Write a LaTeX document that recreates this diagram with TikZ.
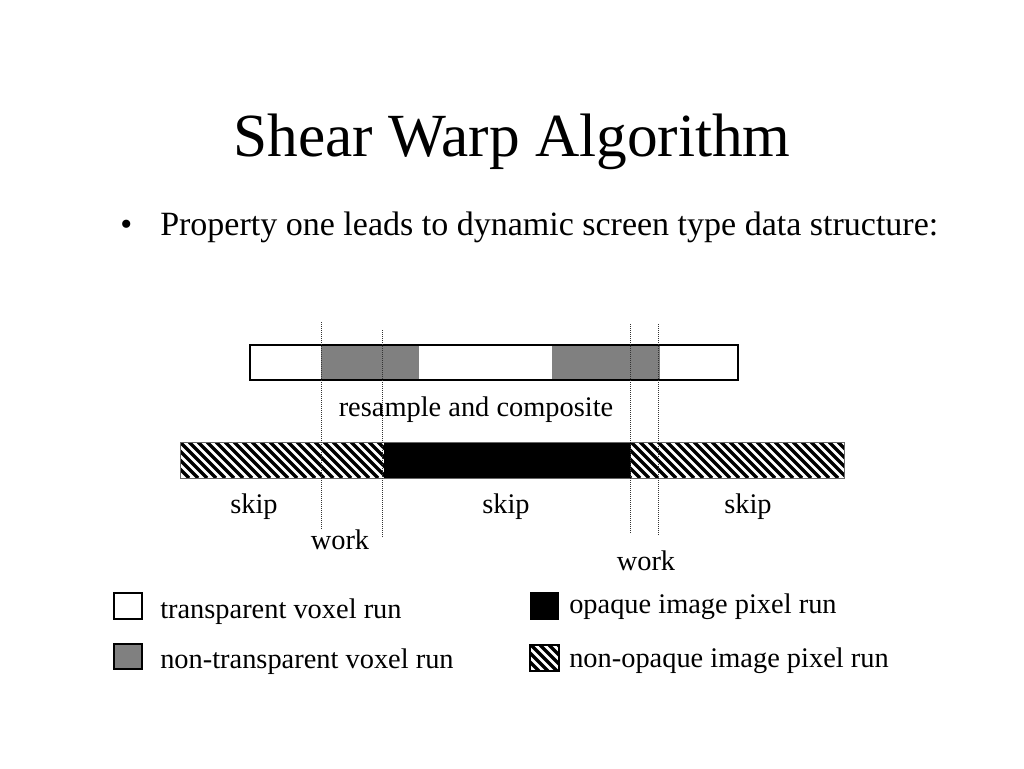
\documentclass[tikz,border=0pt]{standalone}
\usepackage{fontspec}
\setmainfont{Liberation Serif}
\newcommand{\myhatch}[4]{%
  \begin{scope}
    \clip (#1,#2) rectangle (#3,#4);
    \pgfmathsetmacro{\hh}{#4-#2}
    \pgfmathsetmacro{\xa}{#1-\hh-9}
    \pgfmathsetmacro{\xb}{\xa+9}
    \foreach \xx in {\xa,\xb,...,#3} \draw[line width=2.4pt] (\xx,#2) -- ++(\hh,\hh);
  \end{scope}}
\begin{document}
\begin{tikzpicture}[x=0.75pt,y=-0.75pt,
  lbl/.style={font=\fontsize{21.3}{24}\selectfont, inner sep=0pt},
  guide/.style={densely dotted, line width=0.5pt, black!80},
  box/.style={draw=black, line width=1.5pt}]
\useasboundingbox (0,0) rectangle (1024,768);
\fill[white] (0,0) rectangle (1024,768);

% title and bullet
\node[font=\fontsize{46}{50}\selectfont, anchor=base, inner sep=0pt] (title) at (512,156) {Shear Warp Algorithm};
\node[font=\fontsize{25.5}{28}\selectfont, anchor=base west, inner sep=0pt] (bul) at (120,235) {\textbullet};
\node[font=\fontsize{25.5}{28}\selectfont, anchor=base west, inner sep=0pt] (prop) at (160,235) {Property one leads to dynamic screen type data structure:};

% top bar (voxel runs)
\fill[black!50] (321,345) rectangle (419,380);
\fill[black!50] (552,345) rectangle (660,380);
\draw[box] (250,345) rectangle (738,380);

% bottom bar (image pixel runs)
\myhatch{180}{442}{384}{478}
\myhatch{631}{442}{844}{478}
\fill[black] (384,442) rectangle (631,478);
\draw[line width=0.5pt, black!60] (180,442) rectangle (844,478);

% guide lines
\draw[guide] (321,322) -- (321,530);
\draw[guide] (382,330) -- (382,537);
\draw[guide] (630,324) -- (630,533);
\draw[guide] (658,324) -- (658,535);

% labels
\node[lbl, anchor=base] (rc) at (476,416) {resample and composite};
\node[lbl, anchor=base] (s1) at (254,513) {skip};
\node[lbl, anchor=base] (s2) at (506,513) {skip};
\node[lbl, anchor=base] (s3) at (748,513) {skip};
\node[lbl, anchor=base] (w1) at (340,549) {work};
\node[lbl, anchor=base] (w2) at (646,570) {work};

% legend
\draw[box, fill=white] (114,593) rectangle (142,619);
\draw[box, fill=black!50] (114,644) rectangle (142,669);
\fill[black] (530,592) rectangle (559,620);
\myhatch{530}{645}{559}{671}
\draw[line width=1.2pt] (530,645) rectangle (559,671);
\node[lbl, anchor=base west] (l1) at (160,618) {transparent voxel run};
\node[lbl, anchor=base west] (l2) at (160,668) {non-transparent voxel run};
\node[lbl, anchor=base west] (l3) at (569,613) {opaque image pixel run};
\node[lbl, anchor=base west] (l4) at (569,667) {non-opaque image pixel run};
\end{tikzpicture}
\end{document}
